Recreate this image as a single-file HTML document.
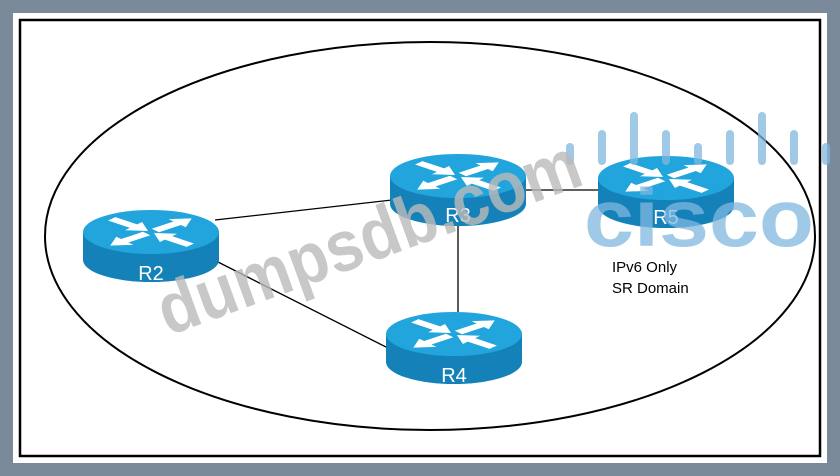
<!DOCTYPE html>
<html><head><style>
html,body{margin:0;padding:0;background:#7b8a9a;}
svg{display:block}
</style></head><body>
<svg width="840" height="476" xmlns="http://www.w3.org/2000/svg" font-family="Liberation Sans, sans-serif">
<defs>
<polygon id="ar" points="0,-6 30,-6 30,-14 50,0 30,14 30,6 0,6" fill="#fff"/>
<g id="rt">
  <path d="M-68 0 V28 A68 22 0 0 0 68 28 V0 Z" fill="#1482b8"/>
  <ellipse cx="0" cy="0" rx="68" ry="22" fill="#22a4dc"/>
  <g transform="scale(0.95,0.38)">
    <use href="#ar" transform="rotate(40) translate(-54,0)"/>
    <use href="#ar" transform="rotate(220) translate(-54,0)"/>
    <use href="#ar" transform="rotate(-40) translate(6,0)"/>
    <use href="#ar" transform="rotate(140) translate(6,0)"/>
  </g>
</g>
</defs>
<rect x="13" y="13" width="814" height="450" fill="#fff"/>
<rect x="20" y="20" width="800" height="436" fill="none" stroke="#000" stroke-width="2.5"/>
<ellipse cx="430" cy="236" rx="385" ry="194" fill="none" stroke="#000" stroke-width="2"/>
<g stroke="#000" stroke-width="1.3">
<line x1="215" y1="220" x2="392" y2="200"/>
<line x1="218" y1="262" x2="388" y2="348"/>
<line x1="458" y1="225" x2="458" y2="312"/>
<line x1="524" y1="190" x2="600" y2="190"/>
</g>
<use href="#rt" x="458" y="176"/>
<use href="#rt" x="151" y="232"/>
<use href="#rt" x="454" y="334"/>
<use href="#rt" x="666" y="178"/>
<g fill="#fff" font-size="20">
<text x="458" y="222" text-anchor="middle">R3</text>
<text x="151" y="280" text-anchor="middle">R2</text>
<text x="454" y="382" text-anchor="middle">R4</text>
<text x="666" y="224" text-anchor="middle">R5</text>
</g>
<text x="612" y="272" font-size="15">IPv6 Only</text>
<text x="612" y="293" font-size="15">SR Domain</text>
<g fill="#7fb8e0" opacity="0.75">
<rect x="566" y="143" width="8" height="22" rx="4"/>
<rect x="598" y="130" width="8" height="35" rx="4"/>
<rect x="630" y="112" width="8" height="53" rx="4"/>
<rect x="662" y="130" width="8" height="35" rx="4"/>
<rect x="694" y="143" width="8" height="22" rx="4"/>
<rect x="726" y="130" width="8" height="35" rx="4"/>
<rect x="758" y="112" width="8" height="53" rx="4"/>
<rect x="790" y="130" width="8" height="35" rx="4"/>
<rect x="822" y="143" width="8" height="22" rx="4"/>
<text x="584" y="246" font-size="82" font-weight="bold" textLength="230" lengthAdjust="spacingAndGlyphs">cisco</text>
</g>
<text x="168" y="336" font-size="72" font-weight="bold" fill="#bbb" opacity="0.8" transform="rotate(-20 168 336)" textLength="445" lengthAdjust="spacingAndGlyphs">dumpsdb.com</text>
</svg>
</body></html>
